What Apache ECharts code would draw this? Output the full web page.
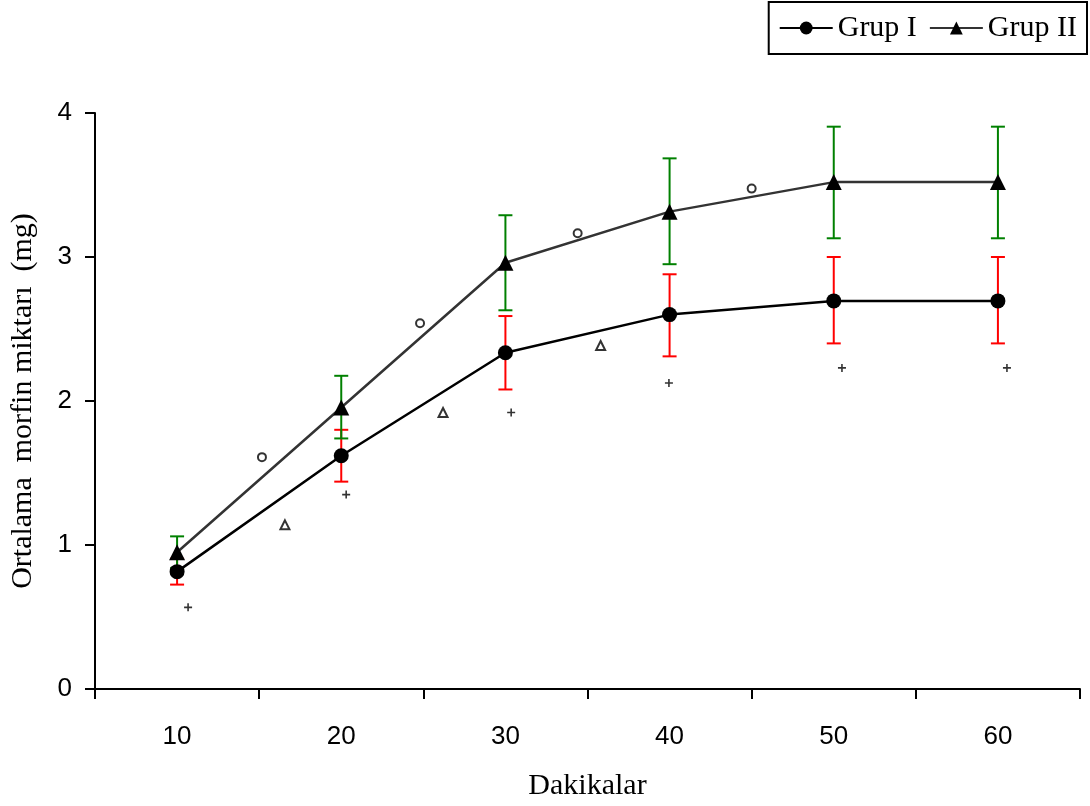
<!DOCTYPE html>
<html><head><meta charset="utf-8">
<script src="https://cdn.jsdelivr.net/npm/echarts@6/dist/echarts.min.js"></script>
<style>html,body{margin:0;padding:0;background:#fff}#c{width:1090px;height:806px}</style>
</head><body><div id="c"></div>
<script>
const categories = ['10','20','30','40','50','60'];
const grup1 = [0.815, 1.62, 2.335, 2.60, 2.695, 2.695];
const grup1Low = [0.725, 1.44, 2.08, 2.31, 2.40, 2.40];
const grup1High = [0.905, 1.80, 2.59, 2.88, 3.00, 3.00];
const grup2 = [0.95, 1.955, 2.96, 3.315, 3.52, 3.52];
const grup2Low = [0.84, 1.74, 2.63, 2.95, 3.13, 3.13];
const grup2High = [1.06, 2.175, 3.29, 3.685, 3.905, 3.905];
const circleMarks = [[15.17, 1.61], [24.8, 2.54], [34.4, 3.165], [45.0, 3.475]];
const triangleMarks = [[16.57, 1.14], [26.2, 1.92], [35.8, 2.385]];
const plusMarks = [[10.67, 0.567], [20.3, 1.35], [30.35, 1.92], [39.96, 2.125], [50.5, 2.23], [60.55, 2.23]];

const chart = echarts.init(document.getElementById('c'));
function errSeries(low, high, color) {
  return {
    type: 'custom', xAxisIndex: 0, yAxisIndex: 0, z: 1,
    data: low.map((l, i) => [i, l, high[i]]),
    renderItem: function (params, api) {
      const p1 = api.coord([api.value(0), api.value(1)]);
      const p2 = api.coord([api.value(0), api.value(2)]);
      const w = 7;
      const st = {stroke: color, lineWidth: 2};
      return {type: 'group', children: [
        {type: 'line', shape: {x1: p1[0], y1: p1[1], x2: p2[0], y2: p2[1]}, style: st},
        {type: 'line', shape: {x1: p1[0]-w, y1: p1[1], x2: p1[0]+w, y2: p1[1]}, style: st},
        {type: 'line', shape: {x1: p2[0]-w, y1: p2[1], x2: p2[0]+w, y2: p2[1]}, style: st}
      ]};
    }
  };
}
chart.setOption({
  animation: false,
  grid: {left: 94, right: 10, top: 113, bottom: 113},
  legend: {
    right: 3, top: 2, orient: 'horizontal',
    borderColor: '#000', borderWidth: 2, padding: [11, 10, 11, 10],
    itemWidth: 53, itemHeight: 16, itemGap: 12,
    textStyle: {fontFamily: 'Liberation Serif', fontSize: 30, color: '#000'},
    data: ['Grup I', 'Grup II']
  },
  xAxis: [{
    type: 'category', data: categories, boundaryGap: true,
    name: 'Dakikalar', nameLocation: 'middle', nameGap: 82,
    nameTextStyle: {fontFamily: 'Liberation Serif', fontSize: 30, color: '#000'},
    axisLine: {lineStyle: {color: '#000', width: 2}},
    axisTick: {show: true, length: 10, lineStyle: {color: '#000', width: 2}},
    axisLabel: {margin: 35, fontFamily: 'Liberation Sans', fontSize: 26, color: '#000'},
    splitLine: {show: false}
  }, {
    type: 'value', min: 5, max: 65, show: false, position: 'bottom'
  }],
  yAxis: {
    type: 'value', min: 0, max: 4, interval: 1,
    name: 'Ortalama  morfin miktarı  (mg)', nameLocation: 'middle', nameGap: 57, nameRotate: 90,
    nameTextStyle: {fontFamily: 'Liberation Serif', fontSize: 30, color: '#000'},
    axisLine: {show: true, lineStyle: {color: '#000', width: 2}},
    axisTick: {show: true, length: 10, lineStyle: {color: '#000', width: 2}},
    axisLabel: {margin: 23, fontFamily: 'Liberation Sans', fontSize: 26, color: '#000'},
    splitLine: {show: false}
  },
  series: [
    errSeries(grup1Low, grup1High, '#ff0000'),
    errSeries(grup2Low, grup2High, '#008000'),
    {name: 'Grup I', type: 'line', data: grup1, symbol: 'circle', symbolSize: 15, z: 3,
     lineStyle: {color: '#000', width: 2.5}, itemStyle: {color: '#000'}},
    {name: 'Grup II', type: 'line', data: grup2, symbol: 'triangle', symbolSize: 16, z: 3,
     lineStyle: {color: '#333', width: 2.5}, itemStyle: {color: '#000'}},
    {type: 'scatter', xAxisIndex: 1, data: circleMarks, symbol: 'emptyCircle', symbolSize: 8,
     itemStyle: {color: '#000', borderColor: '#000', borderWidth: 1}},
    {type: 'scatter', xAxisIndex: 1, data: triangleMarks, symbol: 'emptyTriangle', symbolSize: 9,
     itemStyle: {color: '#000', borderColor: '#000', borderWidth: 1}},
    {type: 'scatter', xAxisIndex: 1, data: plusMarks, symbol: 'path://M4,0L6,0L6,4L10,4L10,6L6,6L6,10L4,10L4,6L0,6L0,4L4,4Z', symbolSize: 8,
     itemStyle: {color: '#000'}}
  ]
});
</script></body></html>
